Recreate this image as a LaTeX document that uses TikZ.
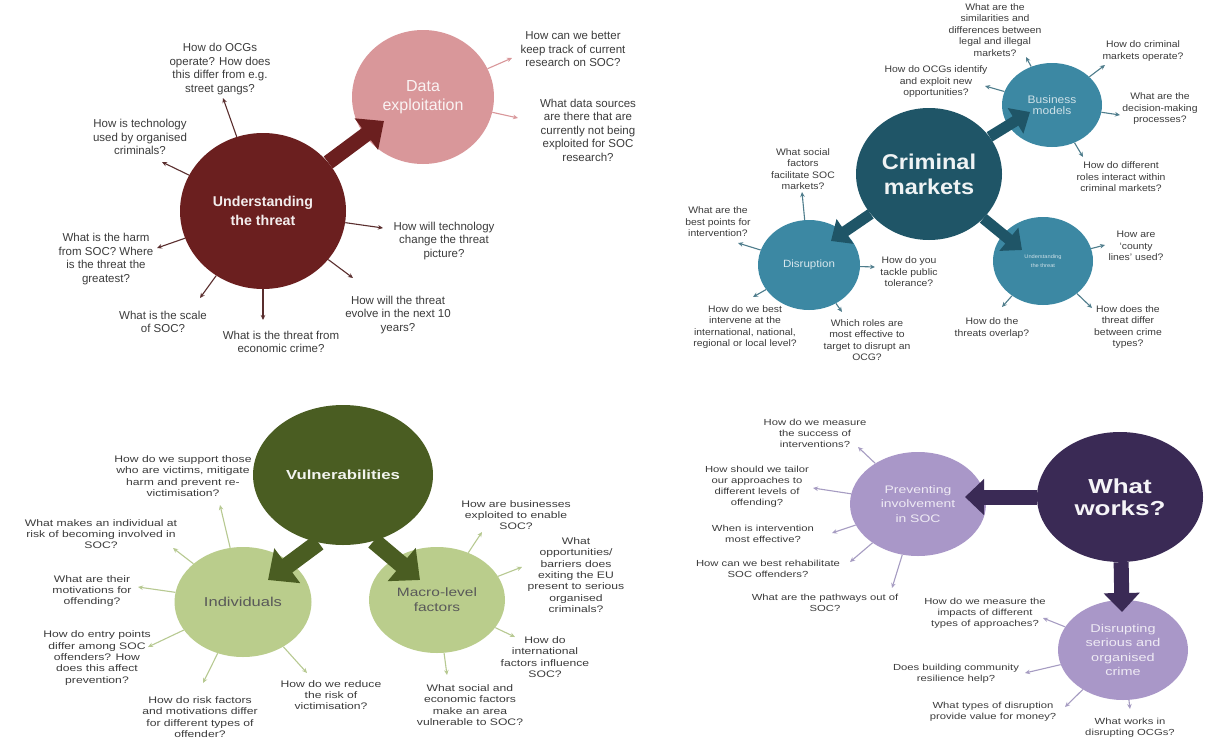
\documentclass[tikz,border=0pt]{standalone}
\usepackage{fontspec}
\setmainfont{Liberation Sans}
\newfontfamily\fA{Liberation Sans}
\newfontfamily\fB{Liberation Sans}[FakeStretch=1.1]
\newfontfamily\fC{Liberation Sans}[FakeStretch=1.28]
\usetikzlibrary{shapes.geometric,arrows.meta}
\definecolor{cUT}{HTML}{6B1F1F}
\definecolor{cDE}{HTML}{D9979A}
\definecolor{cCM}{HTML}{1F5567}
\definecolor{cSM}{HTML}{3C88A3}
\definecolor{cVU}{HTML}{4A5D22}
\definecolor{cLG}{HTML}{BACD8C}
\definecolor{cWW}{HTML}{3A2A55}
\definecolor{cLP}{HTML}{A997C8}
\definecolor{txt}{HTML}{3C3C3C}
\definecolor{spUT}{HTML}{5A2E2E}
\definecolor{spTR}{HTML}{4F7D8C}
\definecolor{spBL}{HTML}{B7C991}
\definecolor{spBR}{HTML}{A69CC2}
\tikzset{
  ell/.style={ellipse, inner sep=0pt, align=center},
  lTL/.style={font=\fA\fontsize{11.5}{13.5}\selectfont, text=txt, align=center, inner sep=0pt},
  lTR/.style={font=\fB\fontsize{9.45}{11.5}\selectfont, text=txt, align=center, inner sep=0pt},
  lBL/.style={font=\fC\fontsize{9.5}{11.4}\selectfont, text=txt, align=center, inner sep=0pt},
  lBR/.style={font=\fC\fontsize{8.8}{11}\selectfont, text=txt, align=center, inner sep=0pt},
  sp/.style={line width=1.1pt, -{Stealth[length=5pt,width=4.5pt]}},
  bTL/.style={draw=cUT, line width=15pt, -{Triangle[length=22pt,width=38pt]}},
  bTR/.style={draw=cCM, line width=11pt, -{Triangle[length=17pt,width=29pt]}},
  bBL/.style={draw=cVU, line width=17pt, -{Triangle[length=24pt,width=42pt]}},
  bBR/.style={draw=cWW, line width=15pt, -{Triangle[length=19pt,width=35pt]}}
}
\begin{document}
\begin{tikzpicture}[x=1pt,y=-1pt]
\path[use as bounding box, fill=white] (0,0) rectangle (1208,742);

% ---------------- Top left ----------------
\node[ell, fill=cUT, minimum width=166pt, minimum height=156pt, text=white!92!cUT,
      font=\fA\bfseries\fontsize{14.2}{19}\selectfont] (ut) at (263,211) {Understanding\\the threat};
\node[ell, fill=cDE, minimum width=142pt, minimum height=134pt, text=white!88!cDE,
      font=\fA\fontsize{16}{19}\selectfont] (de) at (423,97) {Data\\exploitation};
\coordinate (aTL) at (384,121);
\draw[bTL] (ut) -- (aTL);

\node[lTL] (l1) at (220,69) {How do OCGs\\operate? How does\\this differ from e.g.\\street gangs?};
\node[lTL] (l2) at (140,137) {How is technology\\used by organised\\criminals?};
\node[lTL] (l3) at (106,259) {What is the harm\\from SOC? Where\\is the threat the\\greatest?};
\node[lTL] (l4) at (163,322) {What is the scale\\of SOC?};
\node[lTL] (l5) at (281,342) {What is the threat from\\economic crime?};
\node[lTL] (l6) at (398,315) {How will the threat\\evolve in the next 10\\years?};
\node[lTL] (l7) at (444,241) {How will technology\\change the threat\\picture?};
\node[lTL] (l8) at (573,49) {How can we better\\keep track of current\\research on SOC?};
\node[lTL] (l9) at (588,130) {What data sources\\are there that are\\currently not being\\exploited for SOC\\research?};
\coordinate (t1) at (223,98);
\coordinate (t2) at (162,162);
\coordinate (t3) at (157,248);
\coordinate (t4) at (200,298);
\coordinate (t5) at (263,320);
\coordinate (t6) at (353,278);
\coordinate (t7) at (383,228);
\coordinate (t8) at (512,58);
\coordinate (t9) at (518,118);
\foreach \t in {t1,t2,t3,t4,t5,t6,t7} \draw[sp, draw=spUT] (ut) -- (\t);
\draw[sp, draw=cDE] (de) -- (t8);
\draw[sp, draw=cDE] (de) -- (t9);

% ---------------- Top right ----------------
\node[ell, fill=cCM, minimum width=146pt, minimum height=132pt, text=white!93!cCM,
      font=\fB\bfseries\fontsize{21.4}{25}\selectfont] (cm) at (929,174) {Criminal\\markets};
\node[ell, fill=cSM, minimum width=100pt, minimum height=84pt, text=white!75!cSM,
      font=\fB\fontsize{10.9}{11}\selectfont] (bm) at (1052,105) {Business\\models};
\node[ell, fill=cSM, minimum width=100pt, minimum height=88pt, text=white!75!cSM,
      font=\fB\fontsize{5.2}{9}\selectfont] (ut2) at (1043,261) {Understanding\\the threat};
\node[ell, fill=cSM, minimum width=102pt, minimum height=90pt, text=white!80!cSM,
      font=\fB\fontsize{10.5}{12}\selectfont] (dr) at (809,265) {Disruption};
\coordinate (aBM) at (1030,112);
\coordinate (aU2) at (1022,250);
\coordinate (aDR) at (831,241);
\draw[bTR] (cm) -- (aBM);
\draw[bTR] (cm) -- (aU2);
\draw[bTR] (cm) -- (aDR);

\node[lTR] (b1) at (995,30) {What are the\\similarities and\\differences between\\legal and illegal\\markets?};
\node[lTR] (b2) at (1143,51) {How do criminal\\markets operate?};
\node[lTR] (b3) at (1160,109) {What are the\\decision-making\\processes?};
\node[lTR] (b4) at (1121,177) {How do different\\roles interact within\\criminal markets?};
\node[lTR] (b5) at (936,82) {How do OCGs identify\\and exploit new\\opportunities?};
\node[lTR] (x1) at (803,169) {What social\\factors\\facilitate SOC\\markets?};
\node[lTR] (x2) at (718,222) {What are the\\best points for\\intervention?};
\node[lTR] (x3) at (909,272) {How do you\\tackle public\\tolerance?};
\node[lTR] (x4) at (745,327) {How do we best\\intervene at the\\international, national,\\regional or local level?};
\node[lTR] (x5) at (867,340) {Which roles are\\most effective to\\target to disrupt an\\OCG?};
\node[lTR] (u1) at (1136,246) {How are\\‘county\\lines’ used?};
\node[lTR] (u2) at (1128,327) {How does the\\threat differ\\between crime\\types?};
\node[lTR] (u3) at (992,328) {How do the\\threats overlap?};
\coordinate (tb1) at (1026,57);
\coordinate (tb2) at (1105,65);
\coordinate (tb3) at (1120,115);
\coordinate (tb4) at (1083,157);
\coordinate (tb5) at (985,86);
\coordinate (tx1) at (802,192);
\coordinate (tx2) at (738,243);
\coordinate (tx3) at (875,267);
\coordinate (tx4) at (753,297);
\coordinate (tx5) at (842,312);
\coordinate (tu1) at (1105,245);
\coordinate (tu2) at (1092,308);
\coordinate (tu3) at (1002,307);
\foreach \t in {tb1,tb2,tb3,tb4,tb5} \draw[sp, draw=spTR] (bm) -- (\t);
\foreach \t in {tx1,tx2,tx3,tx4,tx5} \draw[sp, draw=spTR] (dr) -- (\t);
\foreach \t in {tu1,tu2,tu3} \draw[sp, draw=spTR] (ut2) -- (\t);

% ---------------- Bottom left ----------------
\node[ell, fill=cVU, minimum width=180pt, minimum height=140pt, text=white!93!cVU,
      font=\fC\bfseries\fontsize{13.1}{16}\selectfont] (vu) at (343,475) {Vulnerabilities};
\node[ell, fill=cLG, minimum width=137pt, minimum height=110pt, text=txt!85!white,
      font=\fC\fontsize{12.9}{15}\selectfont] (in) at (243,602) {Individuals};
\node[ell, fill=cLG, minimum width=136pt, minimum height=106pt, text=txt!85!white,
      font=\fC\fontsize{12.1}{15}\selectfont] (mf) at (437,600) {Macro-level\\factors};
\coordinate (aIN) at (268,580);
\coordinate (aMF) at (420,580);
\draw[bBL] (vu.250) -- (aIN);
\draw[bBL] (vu.295) -- (aMF);

\node[lBL] (i1) at (183,476) {How do we support those\\who are victims, mitigate\\harm and prevent re-\\victimisation?};
\node[lBL] (i2) at (101,534) {What makes an individual at\\risk of becoming involved in\\SOC?};
\node[lBL] (i3) at (92,591) {What are their\\motivations for\\offending?};
\node[lBL] (i4) at (97,658) {How do entry points\\differ among SOC\\offenders? How\\does this affect\\prevention?};
\node[lBL] (i5) at (200,717) {How do risk factors\\and motivations differ\\for different types of\\offender?};
\node[lBL] (i6) at (331,695) {How do we reduce\\the risk of\\victimisation?};
\node[lBL] (m1) at (516,515) {How are businesses\\exploited to enable\\SOC?};
\node[lBL] (m2) at (576,575) {What\\opportunities/\\barriers does\\exiting the EU\\present to serious\\organised\\criminals?};
\node[lBL] (m3) at (545,657) {How do\\international\\factors influence\\SOC?};
\node[lBL] (m4) at (470,705) {What social and\\economic factors\\make an area\\vulnerable to SOC?};
\coordinate (ti1) at (220,505);
\coordinate (ti2) at (173,548);
\coordinate (ti3) at (138,587);
\coordinate (ti4) at (148,647);
\coordinate (ti5) at (203,683);
\coordinate (ti6) at (307,673);
\coordinate (tm1) at (482,532);
\coordinate (tm2) at (522,567);
\coordinate (tm3) at (515,637);
\coordinate (tm4) at (447,675);
\foreach \t in {ti1,ti2,ti3,ti4,ti5,ti6} \draw[sp, draw=spBL] (in) -- (\t);
\foreach \t in {tm1,tm2,tm3,tm4} \draw[sp, draw=spBL] (mf) -- (\t);

% ---------------- Bottom right ----------------
\node[ell, fill=cWW, minimum width=166pt, minimum height=130pt, text=white!95!cWW,
      font=\fC\bfseries\fontsize{20.3}{22}\selectfont] (ww) at (1120,497) {What\\works?};
\node[ell, fill=cLP, minimum width=136pt, minimum height=104pt, text=white!80!cLP,
      font=\fC\fontsize{10.9}{14.5}\selectfont] (pv) at (918,504) {Preventing\\involvement\\in SOC};
\node[ell, fill=cLP, minimum width=130pt, minimum height=100pt, text=white!80!cLP,
      font=\fC\fontsize{11.3}{14.3}\selectfont] (ds) at (1123,650) {Disrupting\\serious and\\organised\\crime};
\coordinate (aPV) at (965,497);
\coordinate (aDS) at (1122,612);
\draw[bBR] (ww) -- (aPV);
\draw[bBR] (ww) -- (aDS);

\node[lBR] (p1) at (815,433) {How do we measure\\the success of\\interventions?};
\node[lBR] (p2) at (757,487) {How should we tailor\\our approaches to\\different levels of\\offending?};
\node[lBR] (p3) at (763,534) {When is intervention\\most effective?};
\node[lBR] (p4) at (768,569) {How can we best rehabilitate\\SOC offenders?};
\node[lBR] (p5) at (825,603) {What are the pathways out of\\SOC?};
\node[lBR] (r1) at (985,613) {How do we measure the\\impacts of different\\types of approaches?};
\node[lBR] (r2) at (956,674) {Does building community\\resilience help?};
\node[lBR] (r3) at (993,712) {What types of disruption\\provide value for money?};
\node[lBR] (r4) at (1130,728) {What works in\\disrupting OCGs?};
\coordinate (tp1) at (858,447);
\coordinate (tp2) at (813,488);
\coordinate (tp3) at (832,533);
\coordinate (tp4) at (850,562);
\coordinate (tp5) at (892,588);
\coordinate (tr1) at (1043,618);
\coordinate (tr2) at (1025,673);
\coordinate (tr3) at (1065,707);
\coordinate (tr4) at (1130,709);
\foreach \t in {tp1,tp2,tp3,tp4,tp5} \draw[sp, draw=spBR] (pv) -- (\t);
\foreach \t in {tr1,tr2,tr3,tr4} \draw[sp, draw=spBR] (ds) -- (\t);
\end{tikzpicture}
\end{document}
